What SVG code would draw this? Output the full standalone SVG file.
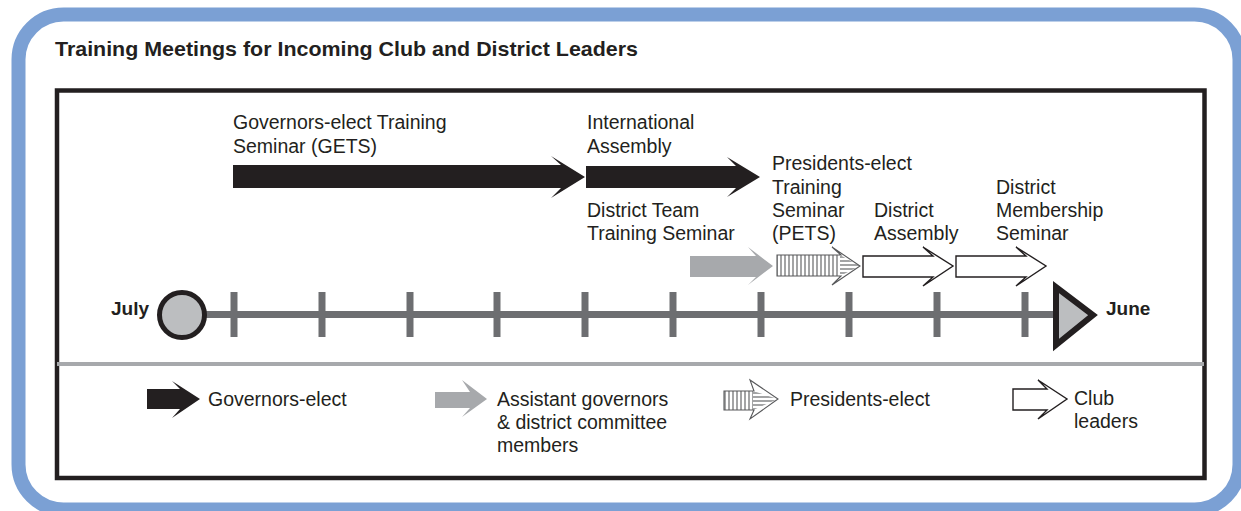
<svg xmlns="http://www.w3.org/2000/svg" width="1241" height="511" viewBox="0 0 1241 511">
<style>
.t{font-family:"Liberation Sans",Arial,sans-serif;font-size:19.5px;fill:#231f20}
.b{font-family:"Liberation Sans",Arial,sans-serif;font-weight:bold;fill:#231f20}
.blk{fill:#231f20}
.gry{fill:#a7a9ac}
.club{fill:#fff;stroke:#231f20;stroke-width:1.4;stroke-linejoin:miter}
.hatch{fill:none;stroke:#58595b;stroke-width:1.1}
.tick{stroke:#6d6e71;stroke-width:7}
</style>
<defs>
<pattern id="vl" patternUnits="userSpaceOnUse" width="4" height="10">
<rect width="4" height="10" fill="#fff"/>
<line x1="1" y1="0" x2="1" y2="10" stroke="#58595b" stroke-width="1.1"/>
</pattern>
<pattern id="hl" patternUnits="userSpaceOnUse" width="10" height="4">
<rect width="10" height="4" fill="#fff"/>
<line x1="0" y1="1" x2="10" y2="1" stroke="#58595b" stroke-width="1.1"/>
</pattern>
</defs>
<rect x="0" y="0" width="1241" height="511" fill="#fff"/>
<rect id="frame" x="18.5" y="14.5" width="1221" height="495" rx="45" fill="#fff" stroke="#7ba0d4" stroke-width="14"/>
<text class="b" x="55" y="56" font-size="21" textLength="583" lengthAdjust="spacingAndGlyphs">Training Meetings for Incoming Club and District Leaders</text>
<rect id="box" x="57" y="90.5" width="1147.5" height="387.5" fill="#fff" stroke="#231f20" stroke-width="4.5"/>
<line x1="57" y1="364" x2="1204" y2="364" stroke="#a7a9ac" stroke-width="4"/>

<g id="timeline">
<line x1="182" y1="314.5" x2="1060" y2="314.5" stroke="#6d6e71" stroke-width="7"/>
<g class="tick">
<line x1="234" y1="292" x2="234" y2="337"/>
<line x1="322" y1="292" x2="322" y2="337"/>
<line x1="410" y1="292" x2="410" y2="337"/>
<line x1="497" y1="292" x2="497" y2="337"/>
<line x1="585" y1="292" x2="585" y2="337"/>
<line x1="673" y1="292" x2="673" y2="337"/>
<line x1="761" y1="292" x2="761" y2="337"/>
<line x1="849" y1="292" x2="849" y2="337"/>
<line x1="937" y1="292" x2="937" y2="337"/>
<line x1="1025" y1="292" x2="1025" y2="337"/>
</g>
<circle cx="182" cy="315" r="22.5" fill="#bcbec0" stroke="#231f20" stroke-width="5"/>
<polygon points="1056,287 1056,345 1093,315" fill="#bcbec0" stroke="#231f20" stroke-width="6" stroke-linejoin="miter"/>
<text class="b" x="111" y="315" font-size="19">July</text>
<text class="b" x="1106" y="315" font-size="19">June</text>
</g>

<g id="gets">
<polygon class="blk" points="233,165 561,165 551,156 585,177 551,198 561,188 233,188"/>
<text class="t" x="233" y="129">Governors-elect Training</text>
<text class="t" x="233" y="153">Seminar (GETS)</text>
</g>
<g id="intl-assembly">
<polygon class="blk" points="586,166 736,166 727,157 760,177 727,197 736,188 586,188"/>
<text class="t" x="587" y="129">International</text>
<text class="t" x="587" y="153">Assembly</text>
</g>
<g id="district-team">
<polygon class="gry" points="690,256 756,256 748,247 773,266 748,285 756,277 690,277"/>
<text class="t" x="587" y="217">District Team</text>
<text class="t" x="587" y="240">Training Seminar</text>
</g>
<g id="pets">
<rect x="777" y="255" width="63" height="21" fill="url(#vl)"/>
<polygon points="840,255 860,266 840,276" fill="url(#hl)"/>
<polygon class="hatch" points="777,255 841,255 832,247 860,266 832,285 841,276 777,276"/>
<text class="t" x="772" y="170">Presidents-elect</text>
<text class="t" x="772" y="193.5">Training</text>
<text class="t" x="772" y="217">Seminar</text>
<text class="t" x="772" y="240">(PETS)</text>
</g>
<g id="district-assembly">
<polygon class="club" points="863,256 933,256 923,247 953,266 923,286 933,277 863,277"/>
<text class="t" x="874" y="217">District</text>
<text class="t" x="874" y="240">Assembly</text>
</g>
<g id="district-membership">
<polygon class="club" points="956,256 1026,256 1016,247 1046,266 1016,286 1026,277 956,277"/>
<text class="t" x="996" y="193.5">District</text>
<text class="t" x="996" y="217">Membership</text>
<text class="t" x="996" y="240">Seminar</text>
</g>

<g id="legend-governors">
<polygon class="blk" points="147,389 180,389 172,381 200,399 172,418 180,409 147,409"/>
<text class="t" x="208" y="406">Governors-elect</text>
</g>
<g id="legend-assistant">
<polygon class="gry" points="435,392 470,392 462,380 487,399 462,417 470,408 435,408"/>
<text class="t" x="497" y="406">Assistant governors</text>
<text class="t" x="497" y="429">&amp; district committee</text>
<text class="t" x="497" y="452">members</text>
</g>
<g id="legend-presidents">
<rect x="724" y="391" width="29" height="19" fill="url(#vl)"/>
<polygon points="753,391 778,399 753,410" fill="url(#hl)"/>
<polygon class="hatch" points="724,391 754,391 750,380 778,399 750,419 754,410 724,410"/>
<text class="t" x="790" y="406">Presidents-elect</text>
</g>
<g id="legend-club">
<polygon class="club" points="1013,389 1047,389 1038,380 1067,399 1038,419 1047,410 1013,410"/>
<text class="t" x="1074" y="405">Club</text>
<text class="t" x="1074" y="428">leaders</text>
</g>
<g id="connectors"></g>
</svg>
